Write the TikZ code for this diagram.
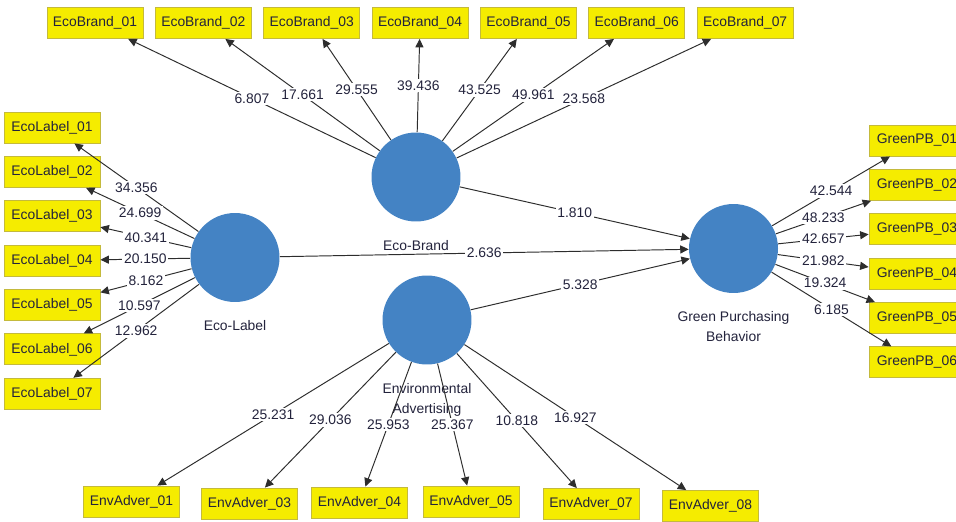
\documentclass[tikz,border=0pt]{standalone}
\usepackage{fontspec}
\setmainfont{Liberation Sans}
\usetikzlibrary{arrows.meta, positioning}
\definecolor{lvblue}{RGB}{68,131,196}
\definecolor{mvyellow}{RGB}{245,236,0}
\definecolor{mvborder}{RGB}{196,186,60}
\definecolor{pathgray}{RGB}{45,45,45}
\definecolor{valtext}{RGB}{35,35,60}
\tikzset{
    indicator/.style={rectangle, draw=mvborder, fill=mvyellow, line width=0.5pt, minimum width=1.92cm, minimum height=0.62cm, inner sep=0pt, text centered, font=\fontsize{7.9}{9.5}\selectfont, text=valtext},
    latent/.style={circle, fill=lvblue, minimum size=1.78cm, inner sep=0pt},
    lvname/.style={inner sep=0pt, align=center, font=\fontsize{7.9}{11.3}\selectfont, text=valtext},
    arrow/.style={draw=pathgray, line width=0.55pt, -{Triangle[length=4.8pt, width=4.6pt]}},
    tval/.style={fill=white, inner sep=1pt, font=\fontsize{7.9}{9.5}\selectfont, text=valtext}
}
\begin{document}
\begin{tikzpicture}[x=0.02cm, y=-0.02cm]
    \useasboundingbox (0,0) rectangle (956,521);
    \clip (0,0) rectangle (956,521);
    \fill [white] (0,0) rectangle (956,521);
    % Latent variables
    \node (brand) [latent] at (416,177) {};
    \node (label) [latent] at (235,257.5) {};
    \node (adver) [latent] at (427,320) {};
    \node (green) [latent] at (733.5,248.5) {};
    \node (brandname) [lvname, below=0.36cm of brand] {Eco-Brand};
    \node (labelname) [lvname, below=0.36cm of label] {Eco-Label};
    \node (advername) [lvname, below=0.36cm of adver] {Environmental\\Advertising};
    \node (greenname) [lvname, below=0.36cm of green] {Green Purchasing\\Behavior};
    % Indicators
    \node (eb1) [indicator] at (95,23) {EcoBrand\_01};
    \node (eb2) [indicator, right=0.23cm of eb1] {EcoBrand\_02};
    \node (eb3) [indicator, right=0.23cm of eb2] {EcoBrand\_03};
    \node (eb4) [indicator, right=0.23cm of eb3] {EcoBrand\_04};
    \node (eb5) [indicator, right=0.23cm of eb4] {EcoBrand\_05};
    \node (eb6) [indicator, right=0.23cm of eb5] {EcoBrand\_06};
    \node (eb7) [indicator, right=0.23cm of eb6] {EcoBrand\_07};
    \node (el1) [indicator] at (52,127.5) {EcoLabel\_01};
    \node (el2) [indicator, below=0.25cm of el1] {EcoLabel\_02};
    \node (el3) [indicator, below=0.25cm of el2] {EcoLabel\_03};
    \node (el4) [indicator, below=0.25cm of el3] {EcoLabel\_04};
    \node (el5) [indicator, below=0.25cm of el4] {EcoLabel\_05};
    \node (el6) [indicator, below=0.25cm of el5] {EcoLabel\_06};
    \node (el7) [indicator, below=0.25cm of el6] {EcoLabel\_07};
    \node (gp1) [indicator] at (917,140.5) {GreenPB\_01};
    \node (gp2) [indicator, below=0.25cm of gp1] {GreenPB\_02};
    \node (gp3) [indicator, below=0.25cm of gp2] {GreenPB\_03};
    \node (gp4) [indicator, below=0.25cm of gp3] {GreenPB\_04};
    \node (gp5) [indicator, below=0.25cm of gp4] {GreenPB\_05};
    \node (gp6) [indicator, below=0.25cm of gp5] {GreenPB\_06};
    \node (ea1) [indicator] at (131.5,501.5) {EnvAdver\_01};
    \node (ea3) [indicator] at (249.5,503.5) {EnvAdver\_03};
    \node (ea4) [indicator] at (359.5,502.5) {EnvAdver\_04};
    \node (ea5) [indicator] at (471,501.5) {EnvAdver\_05};
    \node (ea7) [indicator] at (591,504) {EnvAdver\_07};
    \node (ea8) [indicator] at (710.5,506) {EnvAdver\_08};
    % Outer loadings
    \draw [arrow] (brand) -- node[midway, tval] {6.807} (eb1);
    \draw [arrow] (brand) -- node[midway, tval] {17.661} (eb2);
    \draw [arrow] (brand) -- node[midway, tval] {29.555} (eb3);
    \draw [arrow] (brand) -- node[midway, tval] {39.436} (eb4);
    \draw [arrow] (brand) -- node[midway, tval] {43.525} (eb5);
    \draw [arrow] (brand) -- node[midway, tval] {49.961} (eb6);
    \draw [arrow] (brand) -- node[midway, tval] {23.568} (eb7);
    \draw [arrow] (label) -- node[midway, tval] {34.356} (el1);
    \draw [arrow] (label) -- node[midway, tval] {24.699} (el2);
    \draw [arrow] (label) -- node[midway, tval] {40.341} (el3);
    \draw [arrow] (label) -- node[midway, tval] {20.150} (el4);
    \draw [arrow] (label) -- node[midway, tval] {8.162} (el5);
    \draw [arrow] (label) -- node[midway, tval] {10.597} (el6);
    \draw [arrow] (label) -- node[midway, tval] {12.962} (el7);
    \draw [arrow] (green) -- node[midway, tval] {42.544} (gp1);
    \draw [arrow] (green) -- node[midway, tval] {48.233} (gp2);
    \draw [arrow] (green) -- node[midway, tval] {42.657} (gp3);
    \draw [arrow] (green) -- node[midway, tval] {21.982} (gp4);
    \draw [arrow] (green) -- node[midway, tval] {19.324} (gp5);
    \draw [arrow] (green) -- node[midway, tval] {6.185} (gp6);
    \draw [arrow] (adver) -- node[midway, tval] {25.231} (ea1);
    \draw [arrow] (adver) -- node[midway, tval] {29.036} (ea3);
    \draw [arrow] (adver) -- node[midway, tval] {25.953} (ea4);
    \draw [arrow] (adver) -- node[midway, tval] {25.367} (ea5);
    \draw [arrow] (adver) -- node[midway, tval] {10.818} (ea7);
    \draw [arrow] (adver) -- node[midway, tval] {16.927} (ea8);
    % Inner paths
    \draw [arrow] (brand) -- node[midway, tval] {1.810} (green);
    \draw [arrow] (label) -- node[midway, tval] {2.636} (green);
    \draw [arrow] (adver) -- node[midway, tval] {5.328} (green);
\end{tikzpicture}
\end{document}
